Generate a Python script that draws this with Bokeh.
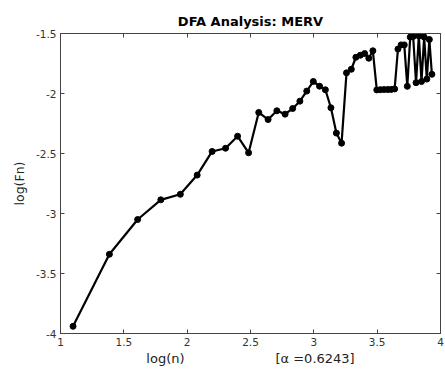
from bokeh.plotting import figure
from bokeh.models import LinearAxis, FixedTicker, Range1d
from bokeh.embed import file_html
from bokeh.resources import INLINE

log_n = [1.099, 1.386, 1.609, 1.792, 1.946, 2.079, 2.197, 2.303, 2.398, 2.485,
         2.565, 2.639, 2.708, 2.773, 2.833, 2.890, 2.944, 2.996, 3.045, 3.091,
         3.135, 3.178, 3.219, 3.258, 3.296, 3.332, 3.367, 3.401, 3.434, 3.466,
         3.497, 3.526, 3.555, 3.584, 3.611, 3.638, 3.664, 3.689, 3.714, 3.738,
         3.761, 3.784, 3.807, 3.829, 3.850, 3.871, 3.892, 3.912, 3.932]
log_fn = [-3.94, -3.34, -3.05, -2.886, -2.84, -2.68, -2.483, -2.456, -2.356, -2.494,
          -2.158, -2.217, -2.144, -2.172, -2.125, -2.064, -1.98, -1.90, -1.939, -1.969,
          -2.119, -2.33, -2.414, -1.828, -1.798, -1.698, -1.681, -1.667, -1.706, -1.644,
          -1.97, -1.968, -1.967, -1.967, -1.966, -1.962, -1.63, -1.595, -1.595, -1.94,
          -1.53, -1.525, -1.91, -1.52, -1.90, -1.53, -1.88, -1.55, -1.84]

x_ticks = [1, 1.5, 2, 2.5, 3, 3.5, 4]
y_ticks = [-4, -3.5, -3, -2.5, -2, -1.5]
x_tick_labels = ["1", "1.5", "2", "2.5", "3", "3.5", "4"]
y_tick_labels = ["-4", "-3.5", "-3", "-2.5", "-2", "-1.5"]
title_text = "DFA Analysis: MERV"
xlabel_text = "log(n)"
alpha_text = "[\u03b1 =0.6243]"
ylabel_text = "log(Fn)"

FONT = "DejaVu Sans"
AX = "#444444"

p = figure(width=445, height=375, output_backend="svg", toolbar_location=None,
           x_range=Range1d(1, 4), y_range=Range1d(-4, -1.5),
           min_border_left=60, min_border_right=5, min_border_top=33,
           min_border_bottom=42, x_axis_location=None, y_axis_location=None)
p.grid.visible = False
p.outline_line_color = AX
p.outline_line_width = 1
p.background_fill_color = "white"
p.border_fill_color = "white"

p.title.text = title_text
p.title.align = "center"
p.title.text_font = FONT
p.title.text_font_style = "bold"
p.title.text_font_size = "13px"
p.title.text_color = "black"
p.title.standoff = 10

xo = {v: s for v, s in zip(x_ticks, x_tick_labels)}
yo = {v: s for v, s in zip(y_ticks, y_tick_labels)}

def style(ax, overrides, show_labels):
    ax.ticker = FixedTicker(ticks=list(overrides.keys()))
    ax.major_label_overrides = overrides
    ax.minor_tick_line_color = None
    ax.major_tick_in = 4
    ax.major_tick_out = 0
    ax.axis_line_color = AX
    ax.major_tick_line_color = AX
    ax.major_label_text_font = FONT
    ax.major_label_text_font_size = "10.5px"
    if show_labels:
        ax.major_label_text_color = "#333333"
    else:
        ax.major_label_text_alpha = 0
        ax.major_label_text_font_size = "1px"
    ax.major_label_standoff = 4

bx = LinearAxis(); style(bx, xo, True)
lx = LinearAxis(); style(lx, yo, True)
tx = LinearAxis(); style(tx, xo, False)
rx = LinearAxis(); style(rx, yo, False)
p.add_layout(bx, "below")
p.add_layout(lx, "left")
p.add_layout(tx, "above")
p.add_layout(rx, "right")

lx.axis_label = ylabel_text
lx.axis_label_text_font = FONT
lx.axis_label_text_font_style = "normal"
lx.axis_label_text_font_size = "12.5px"
lx.axis_label_text_color = "#222222"
lx.axis_label_standoff = 6

gap = "\u00a0" * 22
bx.axis_label = xlabel_text + gap + alpha_text
bx.axis_label_text_font = FONT
bx.axis_label_text_font_style = "normal"
bx.axis_label_text_font_size = "13px"
bx.axis_label_text_color = "#222222"
bx.axis_label_standoff = 2

p.line(log_n, log_fn, line_color="black", line_width=2.2)
p.scatter(log_n, log_fn, size=6, color="black")

open("out.html", "w").write(file_html(p, INLINE))
